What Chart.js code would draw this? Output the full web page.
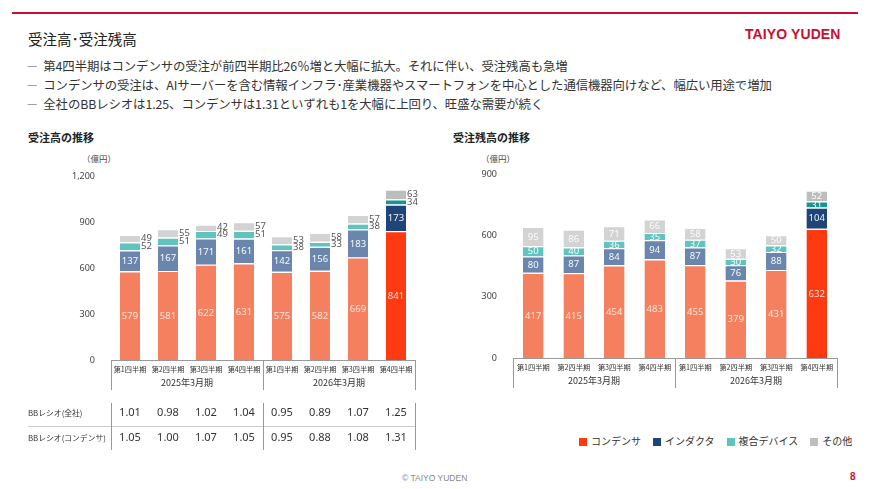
<!DOCTYPE html>
<html lang="ja">
<head>
<meta charset="utf-8">
<script src="https://cdn.jsdelivr.net/npm/chart.js@4.4.1/dist/chart.umd.min.js"></script>
<style>
  html, body { margin: 0; padding: 0; }
  body { width: 870px; height: 489px; position: relative; background: #fff; overflow: hidden;
    font-family: "Noto Sans CJK JP", "Noto Sans", sans-serif; color: #333; }
  .abs { position: absolute; white-space: nowrap; }
  .topline { left: 12px; top: 12px; width: 846px; height: 2px; background: #c8102e; }
  .title { left: 28px; top: 28px; font-size: 14.5px; color: #222; }
  .brand { left: 745px; top: 26px; font-family: "Liberation Sans", Arial, sans-serif; font-weight: bold; font-size: 14px; color: #c8102e; letter-spacing: 0.1px; }
  .bullets { left: 26px; top: 57px; font-size: 12.4px; line-height: 19px; color: #333; letter-spacing: -0.1px; }
  .bullets div span { color: #888; margin-right: 5px; }
  .sub { top: 129px; font-size: 11px; font-weight: bold; color: #222; }
  .unit { top: 152px; font-size: 8.5px; color: #444; }
  canvas { position: absolute; }
  .legend { left: 579px; top: 433px; font-size: 10px; color: #333; display: flex; gap: 12px; }
  .legend i { display: inline-block; width: 8px; height: 8px; margin-right: 4px; vertical-align: -0.5px; }
  .foot { left: 402px; top: 473px; font-family: "Liberation Sans", Arial, sans-serif; font-size: 8.5px; color: #888; }
  .page { left: 850px; top: 471px; font-family: "Liberation Sans", Arial, sans-serif; font-size: 10px; font-weight: bold; color: #c8102e; }
</style>
</head>
<body>
<div class="abs topline"></div>
<div class="abs title">受注高･受注残高</div>
<div class="abs brand">TAIYO YUDEN</div>
<div class="abs bullets">
  <div><span>－</span>第4四半期はコンデンサの受注が前四半期比26％増と大幅に拡大。それに伴い、受注残高も急増</div>
  <div><span>－</span>コンデンサの受注は、AIサーバーを含む情報インフラ･産業機器やスマートフォンを中心とした通信機器向けなど、幅広い用途で増加</div>
  <div><span>－</span>全社のBBレシオは1.25、コンデンサは1.31といずれも1を大幅に上回り、旺盛な需要が続く</div>
</div>
<div class="abs sub" style="left:28px">受注高の推移</div>
<div class="abs sub" style="left:453px">受注残高の推移</div>
<div class="abs unit" style="left:82px">（億円）</div>
<div class="abs unit" style="left:481px">（億円）</div>

<canvas id="ordersChart" width="430" height="305" style="left:0;top:150px"></canvas>
<canvas id="backlogChart" width="440" height="250" style="left:430px;top:150px"></canvas>

<div class="abs legend">
  <span><i style="background:#ff3a10"></i>コンデンサ</span>
  <span><i style="background:#1e4478"></i>インダクタ</span>
  <span><i style="background:#5fc4be"></i>複合デバイス</span>
  <span><i style="background:#bdbdbd"></i>その他</span>
</div>
<div class="abs foot">© TAIYO YUDEN</div>
<div class="abs page">8</div>

<script>
const quarters = ["第1四半期", "第2四半期", "第3四半期", "第4四半期", "第1四半期", "第2四半期", "第3四半期", "第4四半期"];
const fiscalYears = ["2025年3月期", "2026年3月期"];
const seriesNames = ["コンデンサ", "インダクタ", "複合デバイス", "その他"];

// 受注高
const orderCapacitor = [579, 581, 622, 631, 575, 582, 669, 841];
const orderInductor = [137, 167, 171, 161, 142, 156, 183, 173];
const orderComposite = [52, 51, 49, 51, 38, 33, 38, 34];
const orderOther = [49, 55, 42, 57, 53, 58, 57, 63];
const orderTicks = [0, 300, 600, 900, 1200];

// 受注残高
const backlogCapacitor = [417, 415, 454, 483, 455, 379, 431, 632];
const backlogInductor = [80, 87, 84, 94, 87, 76, 88, 104];
const backlogComposite = [50, 40, 36, 35, 37, 30, 32, 31];
const backlogOther = [95, 86, 71, 66, 58, 53, 50, 52];
const backlogTicks = [0, 300, 600, 900];

// BBレシオ
const bbRowLabels = ["BBレシオ(全社)", "BBレシオ(コンデンサ)"];
const bbTotal = ["1.01", "0.98", "1.02", "1.04", "0.95", "0.89", "1.07", "1.25"];
const bbCapacitor = ["1.05", "1.00", "1.07", "1.05", "0.95", "0.88", "1.08", "1.31"];

const FONT = '"Noto Sans CJK JP", "Noto Sans", sans-serif';
const NUM_FONT = '"Noto Sans", "Open Sans", sans-serif';
const baseColors = ["#f5805f", "#6b86ac", "#5fc4be", "#d3d3d3"];
const lastColors = ["#ff3a10", "#1e4478", "#17958f", "#bdbdbd"];

function colorsFor(i) {
  return quarters.map((_, k) => (k === quarters.length - 1 ? lastColors[i] : baseColors[i]));
}

function makeDatasets(series, barPct) {
  return series.map((data, i) => ({
    label: seriesNames[i],
    data,
    backgroundColor: colorsFor(i),
    borderColor: "#fff",
    borderWidth: { top: 1.2, bottom: 0, left: 0, right: 0 },
    borderSkipped: false,
    categoryPercentage: barPct,
    barPercentage: 1,
  }));
}

// labels on segments; small segments go outside for the orders chart
function labelPlugin(outsideSmall) {
  return {
    id: "segLabels",
    afterDatasetsDraw(chart) {
      const ctx = chart.ctx;
      ctx.save();
      ctx.font = `9.5px ${NUM_FONT}`;
      ctx.textBaseline = "middle";
      chart.data.datasets.forEach((ds, di) => {
        chart.getDatasetMeta(di).data.forEach((bar, k) => {
          const { x, y, base, width } = bar.getProps(["x", "y", "base", "width"], true);
          const cy = (y + base) / 2;
          const v = ds.data[k];
          if (outsideSmall && di >= 2) {
            ctx.fillStyle = "#555";
            ctx.textAlign = "left";
            ctx.fillText(v, x + width / 2 + 1, cy);
          } else {
            ctx.fillStyle = di === 0 ? "rgba(255,235,225,0.95)" : "rgba(255,255,255,0.95)";
            ctx.textAlign = "center";
            ctx.fillText(v, x, cy + 0.5);
          }
        });
      });
      ctx.restore();
    },
  };
}

// category labels, year labels, separators and the BB table
function axisPlugin(withTable) {
  return {
    id: "axisDeco",
    afterDraw(chart) {
      const ctx = chart.ctx;
      const xs = chart.scales.x;
      const area = chart.chartArea;
      const step = xs.getPixelForValue(1) - xs.getPixelForValue(0);
      const left = xs.getPixelForValue(0) - step / 2;
      const mid = xs.getPixelForValue(4) - step / 2;
      const right = xs.getPixelForValue(7) + step / 2;
      const bottom = area.bottom;
      ctx.save();
      ctx.strokeStyle = "#999";
      ctx.lineWidth = 1;
      ctx.beginPath();
      ctx.moveTo(left, bottom + 0.5);
      ctx.lineTo(right, bottom + 0.5);
      [left, mid, right].forEach((px) => {
        ctx.moveTo(Math.round(px) + 0.5, bottom);
        ctx.lineTo(Math.round(px) + 0.5, bottom + 30);
      });
      ctx.stroke();
      ctx.fillStyle = "#333";
      ctx.textAlign = "center";
      ctx.textBaseline = "middle";
      ctx.font = `7.2px ${FONT}`;
      quarters.forEach((q, k) => ctx.fillText(q, xs.getPixelForValue(k), bottom + 9));
      ctx.font = `9px ${FONT}`;
      ctx.fillText(fiscalYears[0], (left + mid) / 2, bottom + 23);
      ctx.fillText(fiscalYears[1], (mid + right) / 2, bottom + 23);

      if (withTable) {
        const r1 = bottom + 53, r2 = bottom + 78;
        ctx.strokeStyle = "#ccc";
        ctx.beginPath();
        ctx.moveTo(28, bottom + 66.5);
        ctx.lineTo(right, bottom + 66.5);
        ctx.stroke();
        ctx.strokeStyle = "#999";
        ctx.beginPath();
        [left, mid, right].forEach((px) => {
          ctx.moveTo(Math.round(px) + 0.5, bottom + 43);
          ctx.lineTo(Math.round(px) + 0.5, bottom + 90);
        });
        ctx.stroke();
        ctx.textAlign = "left";
        ctx.font = `7.8px ${FONT}`;
        ctx.fillText(bbRowLabels[0], 28, r1);
        ctx.fillText(bbRowLabels[1], 28, r2);
        ctx.textAlign = "center";
        ctx.font = `11px ${NUM_FONT}`;
        ctx.fillStyle = "#333";
        bbTotal.forEach((v, k) => ctx.fillText(v, xs.getPixelForValue(k), r1));
        bbCapacitor.forEach((v, k) => ctx.fillText(v, xs.getPixelForValue(k), r2));
      }
      ctx.restore();
    },
  };
}

function makeChart(id, series, ticks, max, barPct, padding, outsideSmall, withTable) {
  return new Chart(document.getElementById(id), {
    type: "bar",
    data: { labels: quarters, datasets: makeDatasets(series, barPct) },
    options: {
      responsive: false,
      animation: false,
      layout: { padding },
      plugins: { legend: { display: false }, tooltip: { enabled: false } },
      scales: {
        x: { stacked: true, display: false },
        y: {
          stacked: true,
          min: 0,
          max,
          afterFit: (s) => { s.width = 40; },
          afterBuildTicks: (s) => { s.ticks = ticks.map((v) => ({ value: v })); },
          ticks: { color: "#444", padding: 8, font: { family: NUM_FONT, size: 9 }, callback: (v) => v.toLocaleString("en-US") },
          grid: { display: false },
          border: { display: false },
        },
      },
    },
    plugins: [labelPlugin(outsideSmall), axisPlugin(withTable)],
  });
}

makeChart("ordersChart", [orderCapacitor, orderInductor, orderComposite, orderOther], orderTicks, 1200, 0.53,
  { left: 71, right: 15, top: 26, bottom: 95 }, true, true);
makeChart("backlogChart", [backlogCapacitor, backlogInductor, backlogComposite, backlogOther], backlogTicks, 900, 0.51,
  { left: 43, right: 33, top: 24, bottom: 42 }, false, false);
</script>
</body>
</html>
